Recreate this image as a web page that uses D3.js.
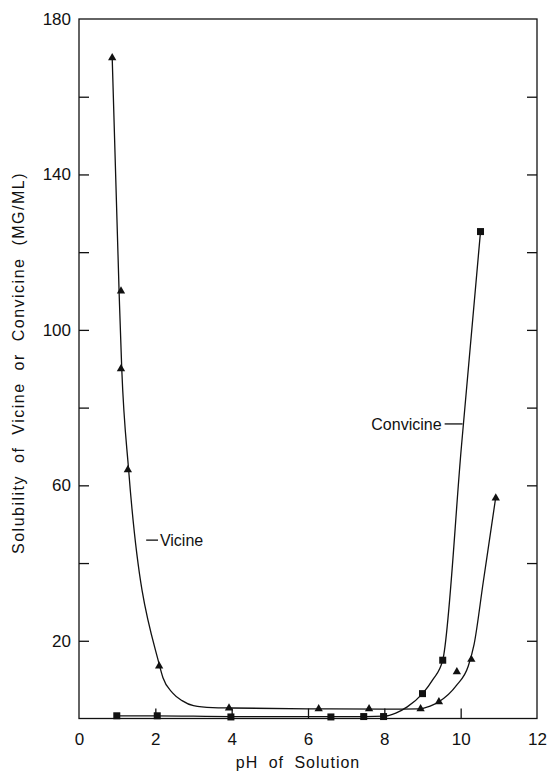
<html>
<head>
<script src="https://d3js.org/d3.v7.min.js"></script>
<style>
  body { margin: 0; background: #fff; }
  svg { display: block; font-family: 'Liberation Sans', Arial, sans-serif; }
</style>
</head>
<body>
<svg width="548" height="771"></svg>
<script>
    // measured points
    var vicinePH  = [0.87, 1.1, 1.1, 1.28, 2.1, 3.93, 6.28, 7.6, 8.95, 9.43, 9.9, 10.28, 10.92];
    var vicineSol = [170, 110, 90, 64, 13.5, 2.7, 2.5, 2.5, 2.5, 4.3, 12, 15.2, 56.7];
    var convicinePH  = [0.99, 2.05, 3.98, 6.6, 7.46, 7.98, 9.0, 9.53, 10.52];
    var convicineSol = [0.7, 0.7, 0.4, 0.4, 0.5, 0.5, 6.4, 15, 125.3];

    // hand drawn fitted curves
    var vicineCurvePH  = [0.87, 1.05, 1.12, 1.3, 2.1, 2.2, 2.45, 2.7, 3.0, 3.5, 4.0, 6.0, 8.0, 8.9, 9.2, 9.43, 9.89, 10.2, 10.35, 10.59, 10.92];
    var vicineCurveSol = [170, 110, 90, 64, 14, 10.5, 6.6, 4.6, 3.3, 2.8, 2.7, 2.5, 2.4, 2.5, 3.2, 4.3, 8.5, 13.5, 19, 35, 57];
    var convicineCurvePH  = [0.99, 2.0, 4.0, 6.0, 7.5, 8.0, 8.3, 8.6, 9.0, 9.27, 9.53, 10.02, 10.52];
    var convicineCurveSol = [0.7, 0.7, 0.5, 0.5, 0.5, 0.6, 1.4, 3.0, 6.4, 10, 15, 70, 125.3];

    var xTicks = [0, 2, 4, 6, 8, 10, 12];
    var yTicks = [20, 40, 60, 80, 100, 120, 140, 160, 180];
    var yLabels = [20, 60, 100, 140, 180];

    var svg = d3.select("svg");
    var plotLeft = 79, plotRight = 537, plotTop = 19, plotBottom = 718.5;

    var x = d3.scaleLinear().domain([0, 12]).range([plotLeft, plotRight]);
    var y = d3.scaleLinear().domain([0, 180]).range([plotBottom, plotTop]);

    // frame
    svg.append("rect")
        .attr("x", plotLeft).attr("y", plotTop)
        .attr("width", plotRight - plotLeft).attr("height", plotBottom - plotTop)
        .attr("fill", "none").attr("stroke", "#111").attr("stroke-width", 1.3);

    var yAxis = d3.axisLeft(y).tickValues(yTicks).tickSizeInner(-10).tickSizeOuter(0).tickPadding(8)
        .tickFormat(function(d) { return yLabels.indexOf(d) >= 0 ? d : ""; });
    var gy = svg.append("g").attr("transform", "translate(" + plotLeft + ",0)").call(yAxis);

    var yAxisR = d3.axisRight(y).tickValues(yTicks.slice(0, -1)).tickSizeInner(-10).tickSizeOuter(0).tickFormat("");
    var gr = svg.append("g").attr("transform", "translate(" + plotRight + ",0)").call(yAxisR);

    var xAxis = d3.axisBottom(x).tickValues(xTicks).tickSizeInner(-10).tickSizeOuter(0).tickPadding(14);
    var gx = svg.append("g").attr("transform", "translate(0," + plotBottom + ")").call(xAxis);

    [gy, gr, gx].forEach(function(g) {
        g.select(".domain").remove();
        g.selectAll("line").attr("stroke", "#111").attr("stroke-width", 1.3);
        g.selectAll("text").attr("fill", "#111").style("font-size", "17px")
            .style("font-family", "'Liberation Sans', Arial, sans-serif");
    });
    // ends of the axes have no inner ticks
    gx.selectAll(".tick line").filter(function(d) { return d === 0 || d === 12; }).remove();
    gy.selectAll(".tick line").filter(function(d) { return d === 180; }).remove();

    var line = d3.line()
        .x(function(d) { return x(d[0]); })
        .y(function(d) { return y(d[1]); })
        .curve(d3.curveMonotoneX);

    svg.append("path")
        .datum(d3.zip(vicineCurvePH, vicineCurveSol))
        .attr("d", line).attr("fill", "none").attr("stroke", "#111").attr("stroke-width", 1.3);
    svg.append("path")
        .datum(d3.zip(convicineCurvePH, convicineCurveSol))
        .attr("d", line).attr("fill", "none").attr("stroke", "#111").attr("stroke-width", 1.3);

    var tri = d3.symbol().type(d3.symbolTriangle).size(30);
    svg.selectAll(".vic").data(d3.zip(vicinePH, vicineSol)).enter().append("path")
        .attr("class", "vic")
        .attr("d", tri)
        .attr("transform", function(d) { return "translate(" + x(d[0]) + "," + y(d[1]) + ")"; })
        .attr("fill", "#111");

    svg.selectAll(".con").data(d3.zip(convicinePH, convicineSol)).enter().append("rect")
        .attr("class", "con")
        .attr("x", function(d) { return x(d[0]) - 3.5; })
        .attr("y", function(d) { return y(d[1]) - 3.5; })
        .attr("width", 7).attr("height", 7)
        .attr("fill", "#111");

    // curve labels with leader
    svg.append("line")
        .attr("x1", x(1.76)).attr("x2", x(2.07)).attr("y1", y(45.9)).attr("y2", y(45.9))
        .attr("stroke", "#111").attr("stroke-width", 1.3);
    svg.append("text")
        .attr("x", x(2.12)).attr("y", y(45.9)).attr("dy", "0.35em")
        .style("font-size", "16px").attr("fill", "#111").text("Vicine");

    svg.append("line")
        .attr("x1", x(9.58)).attr("x2", x(10.05)).attr("y1", y(75.8)).attr("y2", y(75.8))
        .attr("stroke", "#111").attr("stroke-width", 1.3);
    svg.append("text")
        .attr("x", x(9.5)).attr("y", y(75.8)).attr("dy", "0.35em").attr("text-anchor", "end")
        .style("font-size", "16px").attr("fill", "#111").text("Convicine");

    // axis titles
    svg.append("text")
        .attr("x", 298).attr("y", 768)
        .attr("text-anchor", "middle")
        .style("font-size", "16px").style("letter-spacing", "1px").style("word-spacing", "5px")
        .attr("fill", "#111")
        .text("pH of Solution");

    svg.append("text")
        .attr("transform", "translate(24,363) rotate(-90)")
        .attr("text-anchor", "middle")
        .style("font-size", "16px").style("letter-spacing", "1.5px").style("word-spacing", "6px")
        .attr("fill", "#111")
        .text("Solubility of Vicine or Convicine (MG/ML)");
</script>
</body>
</html>
